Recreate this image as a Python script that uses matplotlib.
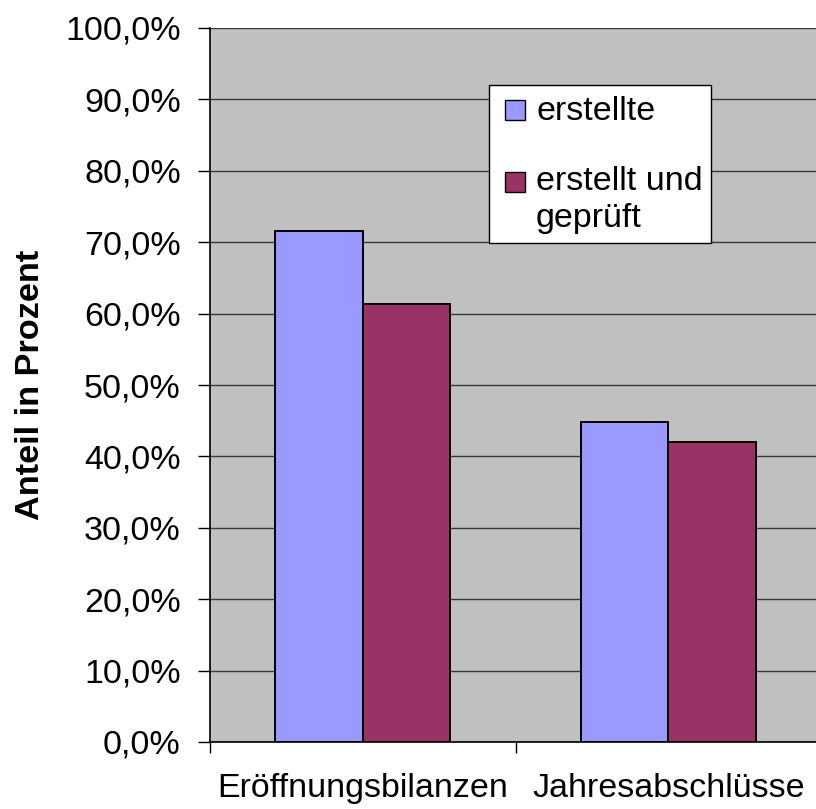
import matplotlib
matplotlib.use("Agg")
import matplotlib.pyplot as plt
from matplotlib.patches import Rectangle
from matplotlib.ticker import FuncFormatter, FixedLocator, NullFormatter
import numpy as np

categories = ["Eröffnungsbilanzen", "Jahresabschlüsse"]
series_names = ["erstellte", "erstellt und\ngeprüft"]
erstellte = [71.6, 44.8]
geprueft = [61.3, 42.0]
y_ticks = [0, 10, 20, 30, 40, 50, 60, 70, 80, 90, 100]

colors = ["#9999FF", "#993366"]

plt.rcParams['font.family'] = ['Liberation Sans', 'DejaVu Sans']

W, H = 816, 809
fig = plt.figure(figsize=(W / 100, H / 100), dpi=100)
fig.patch.set_facecolor("white")

def fx(px):
    return px / W

def fy(py):
    return 1 - py / H

ax_l, ax_r, ax_t, ax_b = 210, 821, 28, 742
ax = fig.add_axes([fx(ax_l), fy(ax_b), (ax_r - ax_l) / W, (ax_b - ax_t) / H])
ax.set_facecolor("#C0C0C0")

x = np.arange(len(categories))
w = 1 / 3.5
ax.bar(x - w / 2, erstellte, width=w, color=colors[0], edgecolor="black", linewidth=1.4, zorder=3)
ax.bar(x + w / 2, geprueft, width=w, color=colors[1], edgecolor="black", linewidth=1.4, zorder=3)

ax.set_xlim(-0.5, len(categories) - 0.5)
ax.set_ylim(0, 100)

ax.yaxis.set_major_locator(FixedLocator(y_ticks))
ax.yaxis.set_major_formatter(FuncFormatter(lambda v, p: f"{v:.1f}".replace(".", ",") + "%"))
ax.grid(axis="y", color="#3a3a3a", linewidth=1.0, zorder=1)
ax.set_axisbelow(True)

ax.xaxis.set_major_locator(FixedLocator(np.arange(len(categories) + 1) - 0.5))
ax.xaxis.set_major_formatter(NullFormatter())
ax.xaxis.set_minor_locator(FixedLocator(x))
ax.xaxis.set_minor_formatter(FuncFormatter(lambda v, p: categories[int(round(v))]))
ax.tick_params(axis="x", which="major", length=8, width=1, color="black", direction="out")
ax.tick_params(axis="x", which="minor", length=0, pad=22, labelsize=24.5)
ax.tick_params(axis="y", length=9, width=1, color="black", direction="out", pad=12, labelsize=24.5)

for s in ["top", "right"]:
    ax.spines[s].set_visible(False)
ax.spines["left"].set_color("black")
ax.spines["bottom"].set_color("black")
ax.spines["left"].set_linewidth(1.2)
ax.spines["bottom"].set_linewidth(1.2)

ax.set_ylabel("Anteil in Prozent", fontsize=24.7, fontweight="bold", labelpad=14)

# legend box
lx0, ly0, lx1, ly1 = 489, 85, 711, 243
fig.add_artist(Rectangle((fx(lx0), fy(ly1)), fx(lx1) - fx(lx0), fy(ly0) - fy(ly1),
                         transform=fig.transFigure, facecolor="white", edgecolor="black",
                         linewidth=1.0, zorder=10))
marker_y = [100, 172]
baseline_y = [120, 190]
line_step = 37
for i, name in enumerate(series_names):
    my = marker_y[i]
    fig.add_artist(Rectangle((fx(505), fy(my + 20)), fx(525) - fx(505), fy(my) - fy(my + 20),
                             transform=fig.transFigure, facecolor=colors[i], edgecolor="black",
                             linewidth=1.0, zorder=11))
    for j, line in enumerate(name.split("\n")):
        fig.text(fx(536), fy(baseline_y[i] + j * line_step), line, fontsize=24.5,
                 va="baseline", ha="left", zorder=12)

fig.savefig("out.png", dpi=100)
